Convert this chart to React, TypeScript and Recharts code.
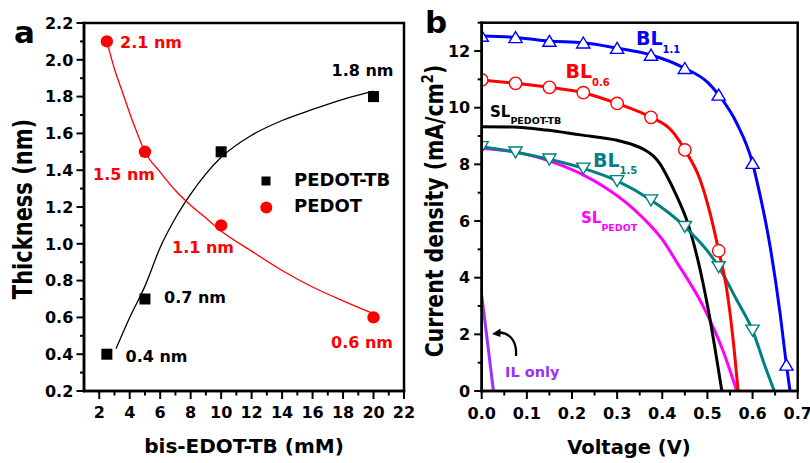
import { ComposedChart, Line, Scatter, XAxis, YAxis } from "recharts";

const FONT = "'DejaVu Sans', 'Liberation Sans', sans-serif";
const STRETCH = 1.25; // the figure is a bit wider than tall, rotated titles need it

// ---------- panel a : thickness vs bis-EDOT-TB ----------
const concentration = [2.5, 5, 10, 20];
const thicknessPedotTb = [0.4, 0.7, 1.5, 1.8];
const thicknessPedot = [2.1, 1.5, 1.1, 0.6];

// guide curves as drawn in the figure
const fitTbX = [3.1, 4, 5, 6, 7, 8, 9, 10, 12, 14, 16, 18, 20];
const fitTbY = [0.43, 0.6, 0.77, 0.98, 1.14, 1.27, 1.38, 1.47, 1.59, 1.67, 1.73, 1.785, 1.83];
const fitPedotX = [2.5, 3, 3.5, 4, 4.5, 5, 6, 7, 8, 9, 10, 12, 14, 16, 18, 20];
const fitPedotY = [2.1, 1.95, 1.83, 1.71, 1.6, 1.5, 1.39, 1.29, 1.21, 1.14, 1.07, 0.96, 0.855, 0.765, 0.69, 0.62];

const xMajorA = [2, 4, 6, 8, 10, 12, 14, 16, 18, 20, 22];
const xMinorA = [3, 5, 7, 9, 11, 13, 15, 17, 19, 21];
const yMajorA = [0.2, 0.4, 0.6, 0.8, 1.0, 1.2, 1.4, 1.6, 1.8, 2.0, 2.2];
const yMinorA = [0.3, 0.5, 0.7, 0.9, 1.1, 1.3, 1.5, 1.7, 1.9, 2.1];

// ---------- panel b : J-V curves ----------
const bl11V = [0, 0.075, 0.15, 0.225, 0.3, 0.375, 0.45, 0.5, 0.525, 0.565, 0.6, 0.609, 0.639, 0.661, 0.675, 0.683];
const bl11J = [12.53, 12.48, 12.35, 12.29, 12.1, 11.86, 11.39, 10.9, 10.45, 9.45, 8.04, 7.45, 5.09, 2.74, 0.92, 0];
const bl11MarkV = [0, 0.075, 0.15, 0.225, 0.3, 0.375, 0.45, 0.525, 0.6, 0.675];
const bl11MarkJ = [12.53, 12.48, 12.35, 12.29, 12.1, 11.86, 11.39, 10.45, 8.04, 0.92];

const bl06V = [0, 0.075, 0.15, 0.225, 0.3, 0.375, 0.42, 0.45, 0.484, 0.506, 0.525, 0.543, 0.557, 0.568];
const bl06J = [10.98, 10.86, 10.72, 10.53, 10.15, 9.66, 9.2, 8.51, 7.45, 6.27, 4.95, 3.56, 1.8, 0];
const bl06MarkV = [0, 0.075, 0.15, 0.225, 0.3, 0.375, 0.45, 0.525];
const bl06MarkJ = [10.98, 10.86, 10.72, 10.53, 10.15, 9.66, 8.51, 4.95];

const slTbV = [0, 0.07, 0.144, 0.218, 0.3, 0.33, 0.36, 0.38, 0.395, 0.41, 0.43, 0.454, 0.484, 0.506, 0.521, 0.532];
const slTbJ = [9.33, 9.32, 9.21, 9.04, 8.85, 8.72, 8.52, 8.3, 8.02, 7.6, 6.95, 6.04, 4.27, 2.51, 1.09, 0];

const bl15V = [0, 0.075, 0.15, 0.225, 0.3, 0.375, 0.45, 0.525, 0.565, 0.6, 0.628, 0.648];
const bl15J = [8.62, 8.43, 8.18, 7.86, 7.42, 6.74, 5.8, 4.38, 3.21, 2.14, 0.86, 0];
const bl15MarkV = [0, 0.075, 0.15, 0.225, 0.3, 0.375, 0.45, 0.525, 0.6];
const bl15MarkJ = [8.62, 8.43, 8.18, 7.86, 7.42, 6.74, 5.8, 4.38, 2.14];

const slPedotV = [0, 0.07, 0.144, 0.218, 0.277, 0.32, 0.358, 0.4, 0.432, 0.491, 0.535, 0.565];
const slPedotJ = [8.56, 8.45, 8.15, 7.68, 7.15, 6.65, 6.1, 5.35, 4.55, 2.98, 1.4, 0];

const ilV = [0, 0.026];
const ilJ = [3.39, 0];

const xMajorB = [0, 0.1, 0.2, 0.3, 0.4, 0.5, 0.6, 0.7];
const xMinorB = [0.05, 0.15, 0.25, 0.35, 0.45, 0.55, 0.65];
const yMajorB = [0, 2, 4, 6, 8, 10, 12];
const yMinorB = [1, 3, 5, 7, 9, 11, 13];

const BLUE = "#0000FF";
const RED = "#FF0000";
const TEAL = "#008080";
const MAGENTA = "#FF00FF";
const PURPLE = "#9B30FF";

const pts = (xs: number[], ys: number[]) => xs.map((x, i) => ({ x, y: ys[i] }));

const frame = { stroke: "#000", strokeWidth: 2.5, strokeLinecap: "square" as const };

const makeXTick = (major: number[], digits: number, dy: number) => (p: any) => {
  const v = p.payload.value;
  const isMajor = major.includes(v);
  return (
    <g>
      <line x1={p.x} y1={p.y} x2={p.x} y2={p.y + (isMajor ? 8 : 4.5)} stroke="#000" strokeWidth={2} />
      {isMajor && (
        <text x={p.x} y={p.y + dy} textAnchor="middle" fontFamily={FONT} fontWeight="bold" fontSize={16} fill="#000">
          {v.toFixed(digits)}
        </text>
      )}
    </g>
  );
};

const makeYTick = (major: number[], digits: number, gap: number) => (p: any) => {
  const v = p.payload.value;
  const isMajor = major.includes(v);
  return (
    <g>
      <line x1={p.x} y1={p.y} x2={p.x - (isMajor ? 7.5 : 4)} y2={p.y} stroke="#000" strokeWidth={2} />
      {isMajor && (
        <text x={p.x - gap} y={p.y + 5.8} textAnchor="end" fontFamily={FONT} fontWeight="bold" fontSize={16} fill="#000">
          {v.toFixed(digits)}
        </text>
      )}
    </g>
  );
};

const square = (p: any) => <rect x={p.cx - 5.5} y={p.cy - 5.5} width={11} height={11} fill="#000" />;
const dot = (p: any) => <circle cx={p.cx} cy={p.cy} r={6.2} fill={RED} />;
const openCircle = (p: any) => <circle cx={p.cx} cy={p.cy} r={6.2} fill="#fff" stroke={RED} strokeWidth={1.4} />;
const triUp = (color: string) => (p: any) => (
  <polygon
    points={`${p.cx},${p.cy - 5.8} ${p.cx + 6.6},${p.cy + 5.2} ${p.cx - 6.6},${p.cy + 5.2}`}
    fill="#fff"
    stroke={color}
    strokeWidth={1.4}
  />
);
const triDown = (color: string) => (p: any) => (
  <polygon
    points={`${p.cx},${p.cy + 5.8} ${p.cx + 6.6},${p.cy - 5.2} ${p.cx - 6.6},${p.cy - 5.2}`}
    fill="#fff"
    stroke={color}
    strokeWidth={1.4}
  />
);

const Txt = ({ x, y, size, color = "#000", anchor = "start", children }: any) => (
  <text x={x} y={y} fontFamily={FONT} fontWeight="bold" fontSize={size} fill={color} textAnchor={anchor}>
    {children}
  </text>
);

const SubLabel = ({ x, y, main, sub, size, subSize, dy, color }: any) => (
  <text x={x} y={y} fontFamily={FONT} fontWeight="bold" fontSize={size} fill={color}>
    {main}
    <tspan fontSize={subSize} dy={dy}>
      {sub}
    </tspan>
  </text>
);

const PanelA = () => (
  <ComposedChart width={420} height={463} margin={{ top: 23, right: 16, bottom: 12, left: 0 }}>
    <XAxis
      dataKey="x"
      type="number"
      domain={[1, 22]}
      ticks={[...xMajorA, ...xMinorA]}
      interval={0}
      height={60}
      tickSize={0}
      tickMargin={0}
      tickLine={false}
      axisLine={frame}
      tick={makeXTick(xMajorA, 0, 27)}
      allowDataOverflow
    />
    <YAxis
      dataKey="y"
      type="number"
      domain={[0.2, 2.2]}
      ticks={[...yMajorA, ...yMinorA]}
      interval={0}
      width={84}
      tickSize={0}
      tickMargin={0}
      tickLine={false}
      axisLine={frame}
      tick={makeYTick(yMajorA, 1, 10.7)}
      allowDataOverflow
    />
    <Line data={pts(fitTbX, fitTbY)} dataKey="y" type="monotone" stroke="#000" strokeWidth={1.3} dot={false} isAnimationActive={false} />
    <Line data={pts(fitPedotX, fitPedotY)} dataKey="y" type="monotone" stroke={RED} strokeWidth={1.3} dot={false} isAnimationActive={false} />
    <Scatter data={pts(concentration, thicknessPedotTb)} shape={square} isAnimationActive={false} />
    <Scatter data={pts(concentration, thicknessPedot)} shape={dot} isAnimationActive={false} />
  </ComposedChart>
);

const PanelB = () => (
  <ComposedChart width={390} height={463} margin={{ top: 22.7, right: 12.3, bottom: 12, left: 0 }}>
    <XAxis
      dataKey="x"
      type="number"
      domain={[0, 0.7]}
      ticks={[...xMajorB, ...xMinorB]}
      interval={0}
      height={60}
      tickSize={0}
      tickMargin={0}
      tickLine={false}
      axisLine={frame}
      tick={makeXTick(xMajorB, 1, 28)}
      allowDataOverflow
    />
    <YAxis
      dataKey="y"
      type="number"
      domain={[0, 13]}
      ticks={[...yMajorB, ...yMinorB]}
      interval={0}
      width={61.7}
      tickSize={0}
      tickMargin={0}
      tickLine={false}
      axisLine={frame}
      tick={makeYTick(yMajorB, 0, 11.5)}
      allowDataOverflow
    />
    <Line data={pts(slPedotV, slPedotJ)} dataKey="y" type="monotone" stroke={MAGENTA} strokeWidth={3} dot={false} isAnimationActive={false} />
    <Line data={pts(slTbV, slTbJ)} dataKey="y" type="monotone" stroke="#000" strokeWidth={3} dot={false} isAnimationActive={false} />
    <Line data={pts(bl15V, bl15J)} dataKey="y" type="monotone" stroke={TEAL} strokeWidth={3} dot={false} isAnimationActive={false} />
    <Line data={pts(bl06V, bl06J)} dataKey="y" type="monotone" stroke={RED} strokeWidth={3} dot={false} isAnimationActive={false} />
    <Line data={pts(bl11V, bl11J)} dataKey="y" type="monotone" stroke={BLUE} strokeWidth={3} dot={false} isAnimationActive={false} />
    <Line data={pts(ilV, ilJ)} dataKey="y" type="linear" stroke={PURPLE} strokeWidth={3} dot={false} isAnimationActive={false} />
    <Scatter data={pts(bl15MarkV, bl15MarkJ)} shape={triDown(TEAL)} isAnimationActive={false} />
    <Scatter data={pts(bl06MarkV, bl06MarkJ)} shape={openCircle} isAnimationActive={false} />
    <Scatter data={pts(bl11MarkV, bl11MarkJ)} shape={triUp(BLUE)} isAnimationActive={false} />
  </ComposedChart>
);

const Overlay = () => (
  <svg width={810} height={463} style={{ position: "absolute", left: 0, top: 0, pointerEvents: "none" }}>
    {/* closing box around each plot area */}
    <rect x={84} y={23} width={320} height={368} fill="none" stroke="#000" strokeWidth={2.5} />
    <rect x={481.7} y={22.7} width={316} height={368.3} fill="none" stroke="#000" strokeWidth={2.5} />

    {/* panel letters */}
    <Txt x={14} y={42.7} size={31}>a</Txt>
    <Txt x={425} y={33.3} size={31}>b</Txt>

    {/* axis titles */}
    <Txt x={244} y={453} size={20} anchor="middle">bis-EDOT-TB (mM)</Txt>
    <Txt x={629} y={454} size={19.5} anchor="middle">Voltage (V)</Txt>
    <text transform={`translate(31.5 209) scale(${STRETCH} 1) rotate(-90)`} textAnchor="middle" fontFamily={FONT} fontWeight="bold" fontSize={21} fill="#000">
      Thickness (nm)
    </text>
    <text transform={`translate(443 211) scale(${STRETCH} 1) rotate(-90)`} textAnchor="middle" fontFamily={FONT} fontWeight="bold" fontSize={20.4} fill="#000">
      Current density (mA/cm
      <tspan fontSize={13} dy={-8}>2</tspan>
      <tspan dy={8}>)</tspan>
    </text>

    {/* panel a annotations */}
    <Txt x={120} y={47.7} size={16} color={RED}>2.1 nm</Txt>
    <Txt x={155} y={180} size={16} color={RED} anchor="end">1.5 nm</Txt>
    <Txt x={172} y={253} size={16} color={RED}>1.1 nm</Txt>
    <Txt x={331} y={348.3} size={16} color={RED}>0.6 nm</Txt>
    <Txt x={331.5} y={76} size={16}>1.8 nm</Txt>
    <Txt x={164} y={303.3} size={16}>0.7 nm</Txt>
    <Txt x={125.5} y={361.7} size={16}>0.4 nm</Txt>

    {/* panel a legend */}
    <rect x={261.5} y={176.5} width={9} height={9} fill="#000" />
    <Txt x={294} y={186} size={18}>PEDOT-TB</Txt>
    <circle cx={266.3} cy={207.5} r={6} fill={RED} />
    <Txt x={294} y={212} size={18}>PEDOT</Txt>

    {/* panel b curve labels */}
    <SubLabel x={636} y={45} main="BL" sub="1.1" size={19} subSize={10} dy={8} color={BLUE} />
    <SubLabel x={565.5} y={78} main="BL" sub="0.6" size={19} subSize={10} dy={7.5} color={RED} />
    <SubLabel x={490} y={116.7} main="SL" sub="PEDOT-TB" size={15} subSize={9.5} dy={7.3} color="#000" />
    <SubLabel x={593} y={166.7} main="BL" sub="1.5" size={19} subSize={10} dy={7.3} color={TEAL} />
    <SubLabel x={581} y={223.3} main="SL" sub="PEDOT" size={15} subSize={9.5} dy={7.7} color={MAGENTA} />
    <Txt x={505} y={377.3} size={14.5} color={PURPLE}>IL only</Txt>

    {/* arrow pointing at the IL-only curve */}
    <path d="M516,356 C517,344 512,333 499,332.5" fill="none" stroke="#000" strokeWidth={2.3} />
    <polygon points="492,334 500.5,328.5 500.5,337" fill="#000" />
  </svg>
);

export default function App() {
  return (
    <div style={{ position: "absolute", left: 0, top: 0, width: 810, height: 463, background: "#fff" }}>
      <div style={{ position: "absolute", left: 0, top: 0 }}>
        <PanelA />
      </div>
      <div style={{ position: "absolute", left: 420, top: 0 }}>
        <PanelB />
      </div>
      <Overlay />
    </div>
  );
}
